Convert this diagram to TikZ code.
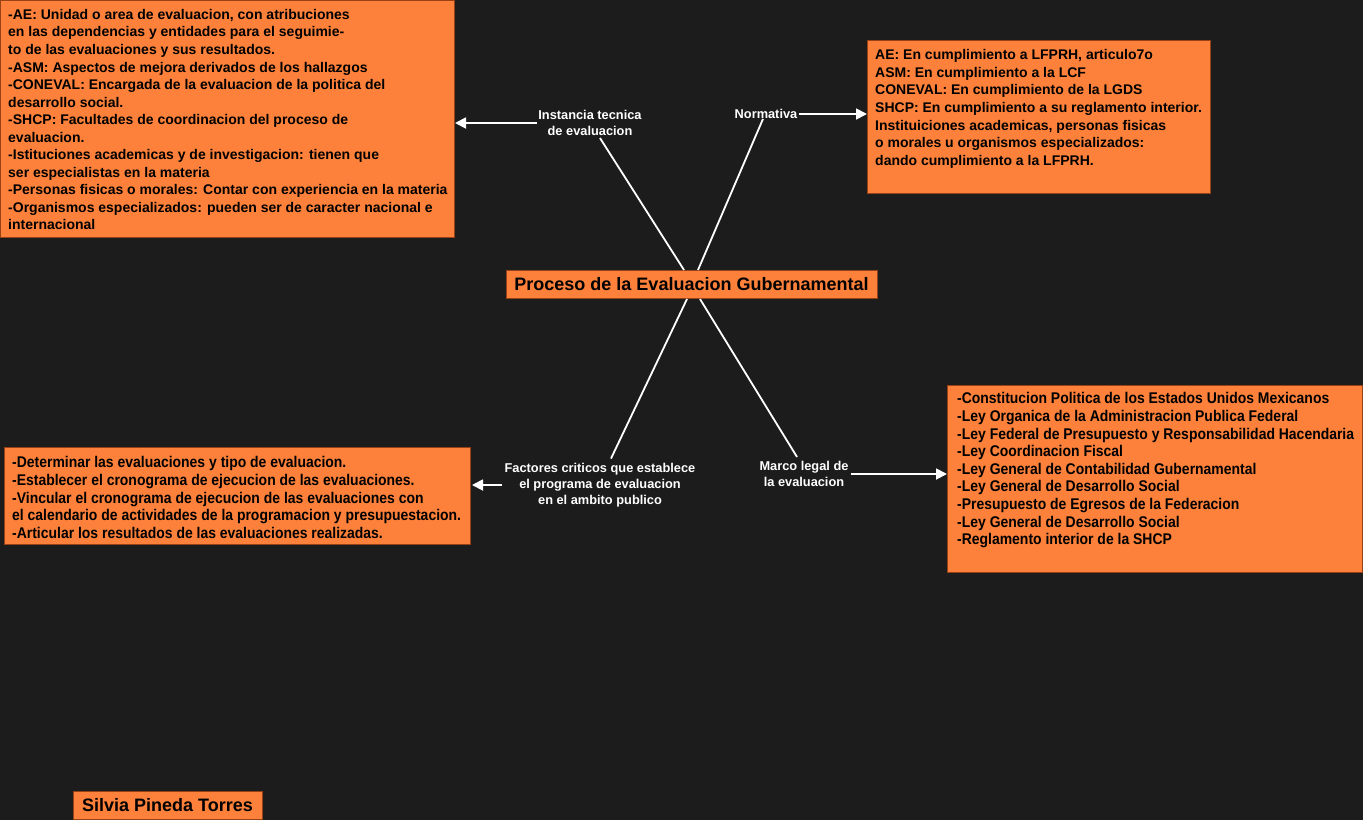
\documentclass[tikz,border=0pt]{standalone}
\usepackage{fontspec}
\setmainfont{Liberation Sans}
\newfontfamily\narrowfont{Liberation Sans}[FakeStretch=0.9]
\usetikzlibrary{arrows.meta,calc}
\definecolor{bgdark}{RGB}{28,28,28}
\definecolor{boxorange}{RGB}{253,129,58}
\definecolor{boxborder}{RGB}{150,66,22}
\tikzset{
  box/.style={draw=boxborder, line width=1pt, fill=boxorange, inner sep=0pt, anchor=north west},
  boxtext/.style={anchor=north west, align=left, inner sep=0pt, text=black,
     font=\fontsize{14}{17.55}\selectfont\bfseries},
  narrowtext/.style={anchor=north west, align=left, inner sep=0pt, text=black,
     font=\fontsize{15.5}{17.6}\selectfont\narrowfont\bfseries},
  lbl/.style={align=center, inner sep=1pt, text=white, font=\fontsize{12.8}{16.3}\selectfont\bfseries},
  link/.style={draw=white, line width=1.8pt},
  arr/.style={draw=white, line width=1.8pt, -{Triangle[length=11pt,width=11pt]}},
}
\begin{document}
\begin{tikzpicture}[x=1pt,y=-1pt]
\useasboundingbox (0,0) rectangle (1363,820);
\fill[bgdark] (0,0) rectangle (1363,820);

% boxes
\node[box, minimum width=454pt, minimum height=237pt] (tl) at (0,0) {};
\node[boxtext] (tltext) at (8,9) {-AE: Unidad o area de evaluacion, con atribuciones\\
en las dependencias y entidades para el seguimie-\\
to de las evaluaciones y sus resultados.\\
-ASM: Aspectos de mejora derivados de los hallazgos\\
-CONEVAL: Encargada de la evaluacion de la politica del\\
desarrollo social.\\
-SHCP: Facultades de coordinacion del proceso de\\
evaluacion.\\
-Istituciones academicas y de investigacion: tienen que\\
ser especialistas en la materia\\
-Personas fisicas o morales: Contar con experiencia en la materia\\
-Organismos especializados: pueden ser de caracter nacional e\\
internacional};

\node[box, minimum width=343pt, minimum height=153pt] (tr) at (867,40) {};
\node[boxtext] (trtext) at (875,49.5) {AE: En cumplimiento a LFPRH, articulo7o\\
ASM: En cumplimiento a la LCF\\
CONEVAL: En cumplimiento de la LGDS\\
SHCP: En cumplimiento a su reglamento interior.\\
Instituiciones academicas, personas fisicas\\
o morales u organismos especializados:\\
dando cumplimiento a la LFPRH.};

\node[box, minimum width=371pt, minimum height=28pt, anchor=center,
  font=\fontsize{18}{20}\selectfont\bfseries] (center) at (691.5,284.5) {Proceso de la Evaluacion Gubernamental};

\node[box, minimum width=466pt, minimum height=97pt] (bl) at (4,447) {};
\node[narrowtext] (bltext) at (12,456.4) {-Determinar las evaluaciones y tipo de evaluacion.\\
-Establecer el cronograma de ejecucion de las evaluaciones.\\
-Vincular el cronograma de ejecucion de las evaluaciones con\\
el calendario de actividades de la programacion y presupuestacion.\\
-Articular los resultados de las evaluaciones realizadas.};

\node[box, minimum width=415pt, minimum height=187pt] (br) at (947,385) {};
\node[narrowtext] (brtext) at (957,392.4) {-Constitucion Politica de los Estados Unidos Mexicanos\\
-Ley Organica de la Administracion Publica Federal\\
-Ley Federal de Presupuesto y Responsabilidad Hacendaria\\
-Ley Coordinacion Fiscal\\
-Ley General de Contabilidad Gubernamental\\
-Ley General de Desarrollo Social\\
-Presupuesto de Egresos de la Federacion\\
-Ley General de Desarrollo Social\\
-Reglamento interior de la SHCP};

\node[box, minimum width=189pt, minimum height=28pt, anchor=center,
  font=\fontsize{18}{20}\selectfont\bfseries] (name) at (167.5,805) {Silvia Pineda Torres};

% labels
\node[lbl] (inst) at (590,123) {Instancia tecnica\\de evaluacion};
\node[lbl] (norm) at (766,114) {Normativa};
\node[lbl] (fact) at (600,485) {Factores criticos que establece\\el programa de evaluacion\\en el ambito publico};
\node[lbl] (marco) at (804,474) {Marco legal de\\la evaluacion};

% connectors
\draw[link] ([xshift=10pt,yshift=-1pt]inst.south) -- ([xshift=-7.5pt]center.north);
\draw[link] ([xshift=-3pt,yshift=1pt]norm.south) -- ([xshift=6.5pt]center.north);
\draw[link] ([xshift=-4.5pt]center.south) -- ([xshift=11pt,yshift=3pt]fact.north);
\draw[link] ([xshift=8.5pt]center.south) -- ([xshift=-7pt,yshift=3pt]marco.north);

\draw[arr] (inst.west) -- (inst.west -| tl.east);
\draw[arr] (norm.east) -- (norm.east -| tr.west);
\draw[arr] ([xshift=-1pt]fact.west) -- ([xshift=1pt]fact.west -| bl.east);
\draw[arr] ([xshift=1pt]marco.east) -- (marco.east -| br.west);
\end{tikzpicture}
\end{document}
